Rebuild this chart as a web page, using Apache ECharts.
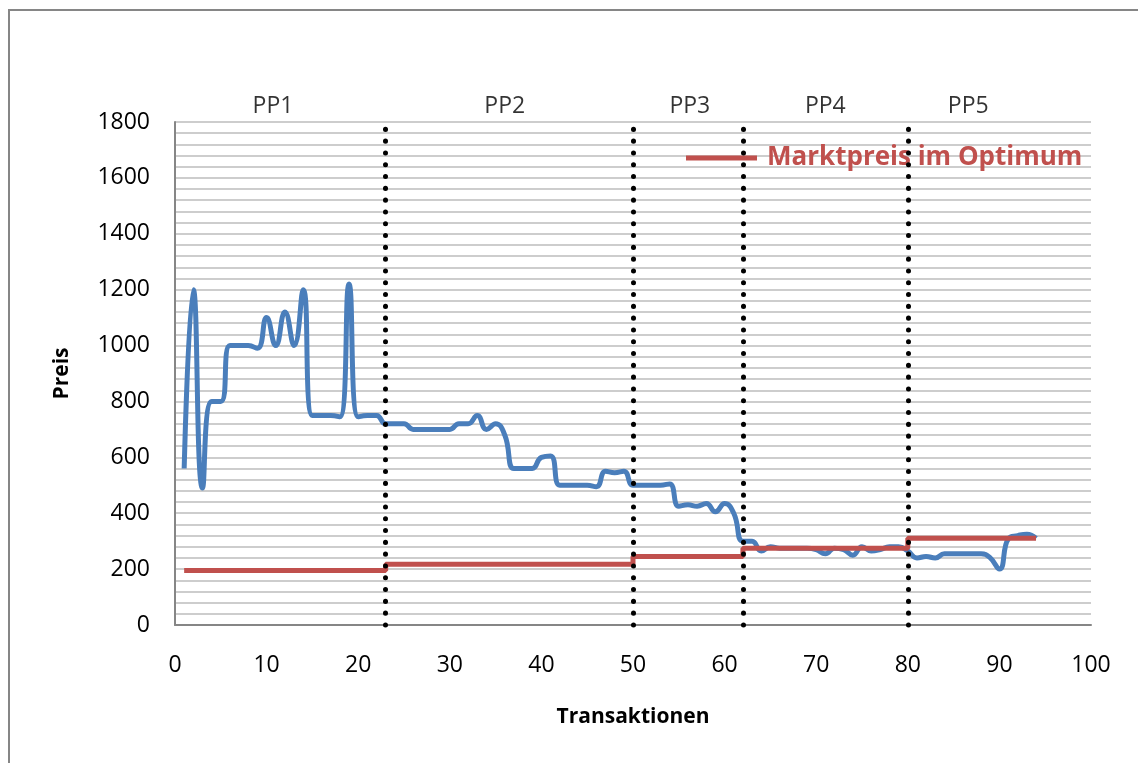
<!DOCTYPE html>
<html>
<head>
<meta charset="utf-8">
<script src="https://cdn.jsdelivr.net/npm/echarts@6/dist/echarts.min.js"></script>
<style>
html,body{margin:0;padding:0;background:#fff;}
#chart{width:1138px;height:763px;}
</style>
</head>
<body>
<div id="chart"></div>
<script>
// Transaction numbers and prices (blue line)
const transactions = [1,2,3,4,5,6,7,8,9,10,11,12,13,14,15,16,17,18,19,20,21,22,23,24,25,26,27,28,29,30,31,32,33,34,35,36,37,38,39,40,41,42,43,44,45,46,47,48,49,50,51,52,53,54,55,56,57,58,59,60,61,62,63,64,65,66,67,68,69,70,71,72,73,74,75,76,77,78,79,80,81,82,83,84,85,86,87,88,89,90,91,92,93,94];
const prices = [560,1200,490,800,800,1000,1000,1000,990,1100,1000,1120,1000,1200,750,750,750,745,1220,745,750,750,720,720,720,700,700,700,700,700,720,720,750,700,720,680,560,560,560,600,605,500,500,500,500,495,550,545,550,500,500,500,500,505,425,430,425,435,405,435,400,300,300,265,280,275,275,275,275,270,255,275,270,250,280,265,270,280,280,265,240,245,240,255,255,255,255,255,240,200,310,320,325,310];

// Market price in optimum, per period (red step line)
const periodBounds = [1,23,50,62,80,94];
const marketPrices = [195,217,245,275,310];

// Period dividers and labels
const dividers = [23,50,62,80];
const periodNames = ['PP1','PP2','PP3','PP4','PP5'];
const periodLabelX = [10.7,36,56.2,71,86.6];

const yTicks = [0,200,400,600,800,1000,1200,1400,1600,1800];
const xTicks = [0,10,20,30,40,50,60,70,80,90,100];

const FONT = '"Open Sans", sans-serif';

const bluePts = transactions.map((t,i)=>[t,prices[i]]);
const redPts = [];
marketPrices.forEach((p,i)=>{ redPts.push([periodBounds[i],p]); redPts.push([periodBounds[i+1],p]); });
const labelPts = periodNames.map((n,i)=>({name:n,value:[periodLabelX[i],yTicks[yTicks.length-1]]}));

const chart = echarts.init(document.getElementById('chart'));
chart.setOption({
  animation:false,
  backgroundColor:'#fff',
  graphic:[{type:'rect',shape:{x:9,y:10,width:1200,height:800},style:{fill:'none',stroke:'#868686',lineWidth:2},silent:true,z:-1}],
  grid:{left:175,right:47,top:122,bottom:138},
  legend:{
    data:['Marktpreis im Optimum'],
    left:686, top:145, padding:0,
    icon:'rect', itemWidth:71, itemHeight:5,
    textStyle:{color:'#C0504D',fontWeight:'bold',fontSize:26,fontFamily:FONT,padding:[0,0,0,5]}
  },
  xAxis:{
    type:'value', min:xTicks[0], max:xTicks[xTicks.length-1], interval:10,
    name:'Transaktionen', nameLocation:'middle', nameGap:82,
    nameTextStyle:{color:'#000',fontWeight:'bold',fontSize:21,fontFamily:FONT},
    axisLine:{show:true,onZero:false,lineStyle:{color:'#868686',width:2}},
    axisTick:{show:false},
    axisLabel:{color:'#000',fontSize:23,fontFamily:FONT,margin:29},
    splitLine:{show:false}
  },
  yAxis:{
    type:'value', min:yTicks[0], max:yTicks[yTicks.length-1], interval:200,
    name:'Preis', nameLocation:'middle', nameGap:102, nameRotate:90,
    nameTextStyle:{color:'#000',fontWeight:'bold',fontSize:21,fontFamily:FONT},
    axisLine:{show:true,lineStyle:{color:'#868686',width:2}},
    axisTick:{show:false},
    axisLabel:{color:'#000',fontSize:23,fontFamily:FONT,margin:25,formatter:v=>String(v)},
    splitLine:{show:true,lineStyle:{color:'#BDBDBD',width:1.5}},
    minorTick:{show:false,splitNumber:5},
    minorSplitLine:{show:true,lineStyle:{color:'#BDBDBD',width:1.5}}
  },
  series:[
    {
      name:'Preis', type:'line', data:bluePts, smooth:0.5, showSymbol:false,
      lineStyle:{color:'#4A7EBB',width:5}, itemStyle:{color:'#4A7EBB'}, z:3,
      markLine:{
        silent:true, symbol:['none','none'], label:{show:false},
        lineStyle:{color:'#000',width:5,type:[0.1,11.7],cap:'round'},
        data:dividers.map(d=>({xAxis:d}))
      }
    },
    {
      name:'Marktpreis im Optimum', type:'line', data:redPts, showSymbol:false,
      lineStyle:{color:'#C0504D',width:5}, itemStyle:{color:'#C0504D'}, z:4
    },
    {
      name:'labels', type:'scatter', data:labelPts, symbolSize:0,
      label:{show:true,position:'top',distance:4,formatter:p=>p.name,color:'#000',fontSize:23,fontFamily:FONT},
      silent:true
    }
  ]
});
</script>
</body>
</html>
